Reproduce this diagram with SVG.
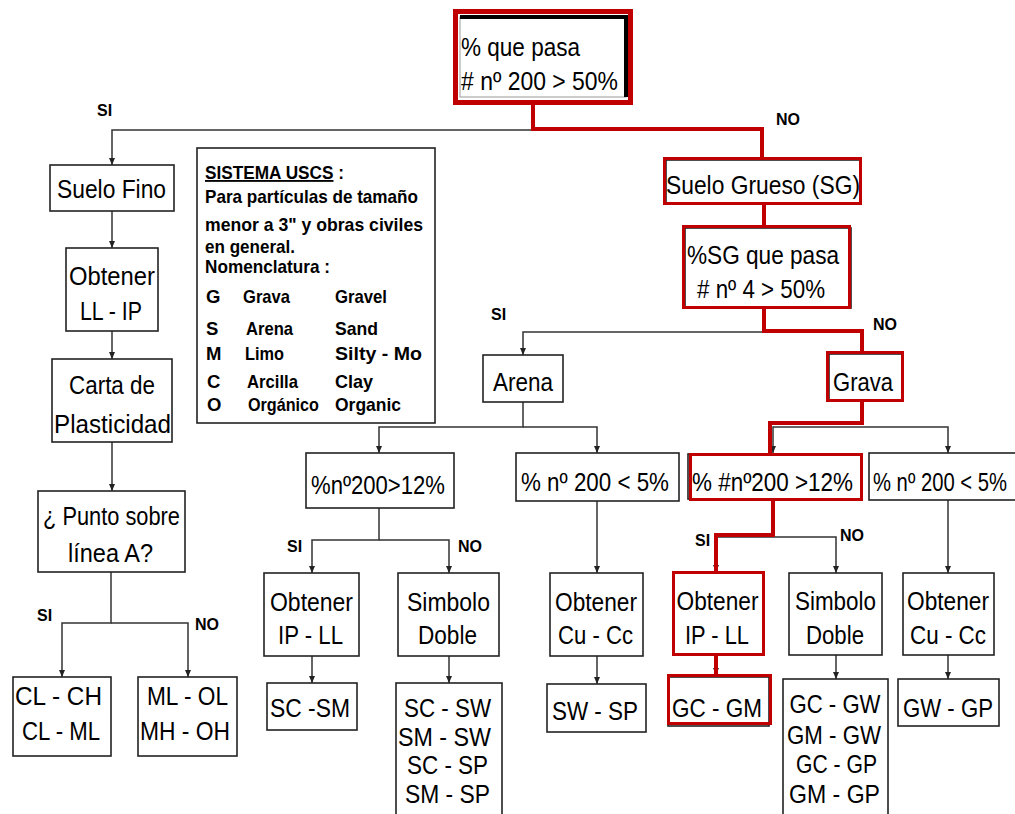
<svg xmlns="http://www.w3.org/2000/svg" width="1015" height="814" viewBox="0 0 1015 814">
<style>
.box{fill:#fff;stroke:#222;stroke-width:1.6}
.rbox{fill:none;stroke:#C00000;stroke-width:3}
.t{font-family:"Liberation Sans",Arial,sans-serif;font-size:25px;fill:#000;text-anchor:middle}
.ts{font-family:"Liberation Sans",Arial,sans-serif;font-size:25px;fill:#000}
.lbl{font-family:"Liberation Sans",Arial,sans-serif;font-size:16px;font-weight:bold;fill:#000}
.lg{font-family:"Liberation Sans Narrow","Liberation Sans",Arial,sans-serif;font-size:18.5px;font-weight:bold;fill:#000}
.c{fill:none;stroke:#333;stroke-width:1.5}
.r{fill:none;stroke:#C00000;stroke-width:4}
</style>
<defs>
<marker id="ah" markerWidth="7" markerHeight="6" refX="7" refY="3" orient="auto" markerUnits="userSpaceOnUse">
<path d="M0,0 L7,3 L0,6 z" fill="#222"/>
</marker>
</defs>
<rect width="1015" height="814" fill="#fff"/>

<g id="connectors">
<path class="c" d="M533,130 H112 V165" marker-end="url(#ah)"/>
<path class="c" d="M112,211 V248" marker-end="url(#ah)"/>
<path class="c" d="M112,331 V359" marker-end="url(#ah)"/>
<path class="c" d="M112,442 V491" marker-end="url(#ah)"/>
<path class="c" d="M111,572 V623 H62 V677" marker-end="url(#ah)"/>
<path class="c" d="M111,623 H188 V677" marker-end="url(#ah)"/>
<path class="c" d="M764,332 H523 V355" marker-end="url(#ah)"/>
<path class="c" d="M523,402 V427 H379 V453" marker-end="url(#ah)"/>
<path class="c" d="M523,427 H597 V453" marker-end="url(#ah)"/>
<path class="c" d="M379,508 V540 H312 V573" marker-end="url(#ah)"/>
<path class="c" d="M379,540 H449 V573" marker-end="url(#ah)"/>
<path class="c" d="M312,656 V683" marker-end="url(#ah)"/>
<path class="c" d="M449,656 V683" marker-end="url(#ah)"/>
<path class="c" d="M597,501 V573" marker-end="url(#ah)"/>
<path class="c" d="M597,656 V684" marker-end="url(#ah)"/>
<path class="c" d="M862,427 H948 V453" marker-end="url(#ah)"/>
<path class="c" d="M862,427 H773 V453" marker-end="url(#ah)"/>
<path class="c" d="M773,537 H836 V573" marker-end="url(#ah)"/>
<path class="c" d="M773,537 H716 V572" marker-end="url(#ah)"/>
<path class="c" d="M948,500 V573" marker-end="url(#ah)"/>
<path class="c" d="M836,655 V679" marker-end="url(#ah)"/>
<path class="c" d="M948,655 V679" marker-end="url(#ah)"/>
<path class="c" d="M716,655 V675" marker-end="url(#ah)"/>
<path class="r" d="M533,100 V129 H762 V157"/>
<path class="r" d="M764,204 V225"/>
<path class="r" d="M764,308 V331 H862 V352"/>
<path class="r" d="M862,401 V423 H770 V453"/>
<path class="r" d="M773,499 V535 H716 V572"/>
<path class="r" d="M716,655 V675"/>
<text class="lbl" x="97" y="116">SI</text>
<text class="lbl" x="776" y="125">NO</text>
<text class="lbl" x="491" y="320">SI</text>
<text class="lbl" x="873" y="330">NO</text>
<text class="lbl" x="37" y="621">SI</text>
<text class="lbl" x="195" y="630">NO</text>
<text class="lbl" x="287" y="552">SI</text>
<text class="lbl" x="458" y="552">NO</text>
<text class="lbl" x="695" y="546">SI</text>
<text class="lbl" x="840" y="541">NO</text>
</g>

<g id="n_top">
<rect x="455.5" y="11.5" width="175" height="91" fill="#fff" stroke="#C00000" stroke-width="5"/>
<rect x="460" y="17" width="166" height="80" fill="none" stroke="#999" stroke-width="1"/>
<path d="M460,17 H626 V97" fill="none" stroke="#000" stroke-width="4"/>
<text class="ts" x="461" y="56" textLength="119" lengthAdjust="spacingAndGlyphs">% que pasa</text>
<text class="ts" x="461" y="90" textLength="157" lengthAdjust="spacingAndGlyphs"># nº 200 &gt; 50%</text>
</g>

<g id="n_suelo_fino">
<rect class="box" x="50" y="165" width="124" height="46"/>
<text class="t" x="111.5" y="198" textLength="109" lengthAdjust="spacingAndGlyphs">Suelo Fino</text>
</g>
<g id="n_obtener_llip">
<rect class="box" x="66" y="248" width="92" height="83"/>
<text class="t" x="112" y="285" textLength="86" lengthAdjust="spacingAndGlyphs">Obtener</text>
<text class="t" x="111" y="320" textLength="62" lengthAdjust="spacingAndGlyphs">LL - IP</text>
</g>
<g id="n_carta">
<rect class="box" x="52" y="359" width="120" height="83"/>
<text class="t" x="112" y="394" textLength="86" lengthAdjust="spacingAndGlyphs">Carta de</text>
<text class="t" x="112.5" y="433" textLength="117" lengthAdjust="spacingAndGlyphs">Plasticidad</text>
</g>
<g id="n_punto">
<rect class="box" x="38" y="491" width="147" height="81"/>
<text class="t" x="111.5" y="525" textLength="137" lengthAdjust="spacingAndGlyphs">¿ Punto sobre</text>
<text class="t" x="110.5" y="562" textLength="85" lengthAdjust="spacingAndGlyphs">línea A?</text>
</g>
<g id="n_clch">
<rect class="box" x="13" y="677" width="98" height="79"/>
<text class="t" x="58.5" y="705" textLength="87" lengthAdjust="spacingAndGlyphs">CL  - CH</text>
<text class="t" x="61" y="740" textLength="78" lengthAdjust="spacingAndGlyphs">CL - ML</text>
</g>
<g id="n_mlol">
<rect class="box" x="138" y="677" width="99" height="79"/>
<text class="t" x="187.5" y="705" textLength="81" lengthAdjust="spacingAndGlyphs">ML - OL</text>
<text class="t" x="185" y="740" textLength="90" lengthAdjust="spacingAndGlyphs">MH - OH</text>
</g>

<g id="n_legend">
<rect class="box" x="197" y="148" width="238" height="275"/>
<text class="lg" x="205" y="179" textLength="139" lengthAdjust="spacingAndGlyphs"><tspan text-decoration="underline">SISTEMA USCS</tspan> :</text>
<text class="lg" x="205" y="203" textLength="213" lengthAdjust="spacingAndGlyphs">Para partículas de tamaño</text>
<text class="lg" x="205" y="231" textLength="218" lengthAdjust="spacingAndGlyphs">menor a 3" y obras civiles</text>
<text class="lg" x="205" y="253" textLength="90" lengthAdjust="spacingAndGlyphs">en general.</text>
<text class="lg" x="205" y="273" textLength="125" lengthAdjust="spacingAndGlyphs">Nomenclatura :</text>
<text class="lg" x="206" y="303">G</text>
<text class="lg" x="243" y="303" textLength="47" lengthAdjust="spacingAndGlyphs">Grava</text>
<text class="lg" x="335" y="303" textLength="52" lengthAdjust="spacingAndGlyphs">Gravel</text>
<text class="lg" x="206" y="335">S</text>
<text class="lg" x="246" y="335" textLength="47" lengthAdjust="spacingAndGlyphs">Arena</text>
<text class="lg" x="335" y="335" textLength="43" lengthAdjust="spacingAndGlyphs">Sand</text>
<text class="lg" x="206" y="360">M</text>
<text class="lg" x="245" y="360" textLength="39" lengthAdjust="spacingAndGlyphs">Limo</text>
<text class="lg" x="335" y="360" textLength="87" lengthAdjust="spacingAndGlyphs">Silty  -  Mo</text>
<text class="lg" x="207" y="388">C</text>
<text class="lg" x="247" y="388" textLength="51" lengthAdjust="spacingAndGlyphs">Arcilla</text>
<text class="lg" x="335" y="388" textLength="38" lengthAdjust="spacingAndGlyphs">Clay</text>
<text class="lg" x="207" y="411">O</text>
<text class="lg" x="248" y="411" textLength="71" lengthAdjust="spacingAndGlyphs">Orgánico</text>
<text class="lg" x="335" y="411" textLength="66" lengthAdjust="spacingAndGlyphs">Organic</text>
</g>

<g id="n_arena">
<rect class="box" x="483" y="355" width="80" height="47"/>
<text class="t" x="523" y="391" textLength="60" lengthAdjust="spacingAndGlyphs">Arena</text>
</g>
<g id="n_s_gt12">
<rect class="box" x="306" y="453" width="148" height="55"/>
<text class="t" x="378" y="494" textLength="134" lengthAdjust="spacingAndGlyphs">%nº200&gt;12%</text>
</g>
<g id="n_s_lt5">
<rect class="box" x="516" y="453" width="163" height="48"/>
<text class="t" x="595" y="491" textLength="148" lengthAdjust="spacingAndGlyphs">% nº 200 &lt; 5%</text>
</g>
<g id="n_s_ipll">
<rect class="box" x="264" y="573" width="95" height="83"/>
<text class="t" x="311.5" y="611" textLength="83" lengthAdjust="spacingAndGlyphs">Obtener</text>
<text class="t" x="310.5" y="644" textLength="65" lengthAdjust="spacingAndGlyphs">IP - LL</text>
</g>
<g id="n_s_scsm">
<rect class="box" x="267" y="683" width="90" height="47"/>
<text class="t" x="310" y="717" textLength="80" lengthAdjust="spacingAndGlyphs">SC -SM</text>
</g>
<g id="n_s_doble">
<rect class="box" x="398" y="573" width="101" height="83"/>
<text class="t" x="448.5" y="611" textLength="83" lengthAdjust="spacingAndGlyphs">Simbolo</text>
<text class="t" x="447.5" y="644" textLength="59" lengthAdjust="spacingAndGlyphs">Doble</text>
</g>
<g id="n_s_doble_res">
<rect class="box" x="396" y="683" width="106" height="140"/>
<text class="t" x="447.5" y="717" textLength="87" lengthAdjust="spacingAndGlyphs">SC - SW</text>
<text class="t" x="444.5" y="746" textLength="93" lengthAdjust="spacingAndGlyphs">SM - SW</text>
<text class="t" x="447.5" y="774" textLength="81" lengthAdjust="spacingAndGlyphs">SC - SP</text>
<text class="t" x="447.5" y="803" textLength="85" lengthAdjust="spacingAndGlyphs">SM - SP</text>
</g>
<g id="n_s_cucc">
<rect class="box" x="550" y="573" width="93" height="83"/>
<text class="t" x="596" y="611" textLength="82" lengthAdjust="spacingAndGlyphs">Obtener</text>
<text class="t" x="595.5" y="644" textLength="75" lengthAdjust="spacingAndGlyphs">Cu - Cc</text>
</g>
<g id="n_s_swsp">
<rect class="box" x="547" y="684" width="99" height="48"/>
<text class="t" x="595" y="720" textLength="86" lengthAdjust="spacingAndGlyphs">SW - SP</text>
</g>

<g id="n_suelo_grueso">
<rect class="box" x="666" y="160" width="195" height="44"/>
<rect class="rbox" x="664.5" y="158.5" width="196" height="45"/>
<text class="t" x="763" y="194" textLength="194" lengthAdjust="spacingAndGlyphs">Suelo Grueso (SG)</text>
</g>
<g id="n_sg_pasa">
<rect class="box" x="685" y="228" width="166" height="80"/>
<rect class="rbox" x="683.5" y="226.5" width="166" height="81"/>
<text class="t" x="763" y="264" textLength="152" lengthAdjust="spacingAndGlyphs">%SG que pasa</text>
<text class="t" x="761" y="298" textLength="128" lengthAdjust="spacingAndGlyphs"># nº 4 &gt; 50%</text>
</g>
<g id="n_grava">
<rect class="box" x="829" y="354" width="73" height="47"/>
<rect class="rbox" x="827.5" y="352.5" width="75" height="48"/>
<text class="t" x="863" y="391" textLength="60" lengthAdjust="spacingAndGlyphs">Grava</text>
</g>
<g id="n_g_gt12">
<rect class="box" x="688" y="454" width="173" height="45"/>
<rect class="rbox" x="690.5" y="454.5" width="171" height="45"/>
<text class="t" x="772.5" y="491" textLength="161" lengthAdjust="spacingAndGlyphs">% #nº200 &gt;12%</text>
</g>
<g id="n_g_lt5">
<rect class="box" x="869" y="453" width="150" height="47"/>
<text class="ts" x="873" y="491" textLength="134" lengthAdjust="spacingAndGlyphs">% nº 200 &lt; 5%</text>
</g>
<g id="n_g_ipll">
<rect class="box" x="673" y="573" width="91" height="82"/>
<rect class="rbox" x="673.5" y="572.5" width="90" height="82"/>
<text class="t" x="717.5" y="610" textLength="82" lengthAdjust="spacingAndGlyphs">Obtener</text>
<text class="t" x="717" y="644" textLength="64" lengthAdjust="spacingAndGlyphs">IP - LL</text>
</g>
<g id="n_g_gcgm">
<rect class="box" x="668" y="677" width="101" height="49"/>
<rect class="rbox" x="668.5" y="675.5" width="102" height="48"/>
<text class="t" x="717" y="717" textLength="90" lengthAdjust="spacingAndGlyphs">GC - GM</text>
</g>
<g id="n_g_doble">
<rect class="box" x="789" y="573" width="93" height="82"/>
<text class="t" x="835.5" y="610" textLength="81" lengthAdjust="spacingAndGlyphs">Simbolo</text>
<text class="t" x="835" y="644" textLength="58" lengthAdjust="spacingAndGlyphs">Doble</text>
</g>
<g id="n_g_doble_res">
<rect class="box" x="783" y="679" width="105" height="145"/>
<text class="t" x="835" y="713" textLength="91" lengthAdjust="spacingAndGlyphs">GC - GW</text>
<text class="t" x="834" y="744" textLength="94" lengthAdjust="spacingAndGlyphs">GM - GW</text>
<text class="t" x="836.5" y="773" textLength="81" lengthAdjust="spacingAndGlyphs">GC - GP</text>
<text class="t" x="834.5" y="803" textLength="91" lengthAdjust="spacingAndGlyphs">GM - GP</text>
</g>
<g id="n_g_cucc">
<rect class="box" x="903" y="573" width="91" height="82"/>
<text class="t" x="948" y="610" textLength="82" lengthAdjust="spacingAndGlyphs">Obtener</text>
<text class="t" x="948" y="644" textLength="76" lengthAdjust="spacingAndGlyphs">Cu - Cc</text>
</g>
<g id="n_g_gwgp">
<rect class="box" x="898" y="679" width="101" height="47"/>
<text class="t" x="948" y="717" textLength="90" lengthAdjust="spacingAndGlyphs">GW - GP</text>
</g>
</svg>
